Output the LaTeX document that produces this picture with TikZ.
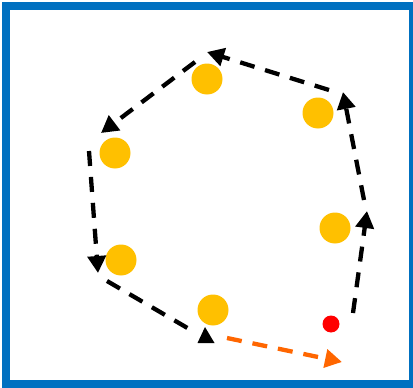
\documentclass[tikz,border=0pt]{standalone}
\usetikzlibrary{arrows.meta}
\definecolor{frameblue}{HTML}{0070C0}
\definecolor{dotyellow}{HTML}{FFC000}
\definecolor{arrorange}{HTML}{FF6600}
\tikzset{
  dot/.style={circle,fill=dotyellow,minimum size=31pt,inner sep=0pt},
  reddot/.style={circle,fill=red,minimum size=17pt,inner sep=0pt},
  pathseg/.style={line width=4.3pt,dash pattern=on 15pt off 11pt,
    -{Triangle[length=17pt,width=18pt]}},
  pathline/.style={line width=4.3pt,dash pattern=on 15pt off 11pt},
  tri/.style={fill=black},
}
\begin{document}
\begin{tikzpicture}[x=1pt,y=-1pt]
\useasboundingbox (0,0) rectangle (413,388);
\clip (0,0) rectangle (413,388);
\draw[frameblue,line width=8pt] (6,6) rectangle (413,384);
% yellow circles
\node[dot] (c1) at (207,79) {};
\node[dot] (c2) at (318,113) {};
\node[dot] (c3) at (115,153) {};
\node[dot] (c4) at (335,228) {};
\node[dot] (c5) at (121,260) {};
\node[dot] (c6) at (213,310) {};
\node[reddot] (r) at (331,324) {};
% path coordinates
\coordinate (s1) at (353,313);
\coordinate (t1) at (367,211);
\coordinate (s2) at (364,200);
\coordinate (t2) at (343,92);
\coordinate (s3) at (329,90);
\coordinate (t3) at (207,52);
\coordinate (s4) at (195,62);
\coordinate (t4) at (101,133);
\coordinate (s5) at (89,151);
\coordinate (t5) at (98,273);
\coordinate (s6) at (107,281);
\coordinate (e6) at (196,333);
\coordinate (o1) at (227,338);
\coordinate (o2) at (342,362);
\draw[pathseg] (s1) -- (t1);
\draw[pathseg] (s2) -- (t2);
\draw[pathseg] (s3) -- (t3);
\draw[pathseg] (s4) -- (t4);
\draw[pathseg] (s5) -- (t5);
\draw[pathline] (s6) -- (e6);
\fill[tri] (205,327) -- (214.5,343) -- (197.5,343) -- cycle;
\draw[pathseg,arrorange] (o1) -- (o2);
\end{tikzpicture}
\end{document}
